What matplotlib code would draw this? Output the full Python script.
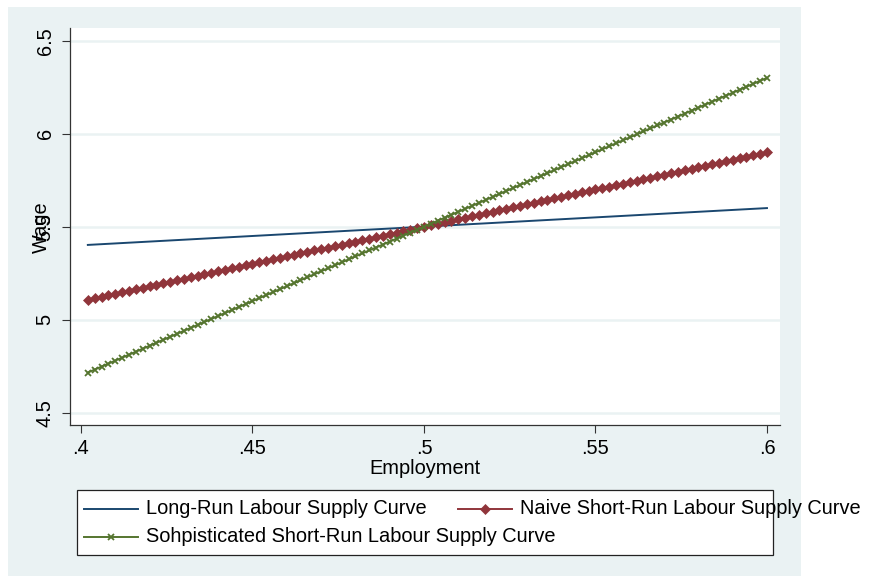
import matplotlib
matplotlib.use("Agg")
import matplotlib.pyplot as plt
from matplotlib.patches import Rectangle
from matplotlib.lines import Line2D

plt.rcParams['font.family'] = ['Liberation Sans', 'DejaVu Sans']

employment = [
    0.402, 0.404, 0.406, 0.408, 0.410, 0.412, 0.414, 0.416, 0.418, 0.420,
    0.422, 0.424, 0.426, 0.428, 0.430, 0.432, 0.434, 0.436, 0.438, 0.440,
    0.442, 0.444, 0.446, 0.448, 0.450, 0.452, 0.454, 0.456, 0.458, 0.460,
    0.462, 0.464, 0.466, 0.468, 0.470, 0.472, 0.474, 0.476, 0.478, 0.480,
    0.482, 0.484, 0.486, 0.488, 0.490, 0.492, 0.494, 0.496, 0.498, 0.500,
    0.502, 0.504, 0.506, 0.508, 0.510, 0.512, 0.514, 0.516, 0.518, 0.520,
    0.522, 0.524, 0.526, 0.528, 0.530, 0.532, 0.534, 0.536, 0.538, 0.540,
    0.542, 0.544, 0.546, 0.548, 0.550, 0.552, 0.554, 0.556, 0.558, 0.560,
    0.562, 0.564, 0.566, 0.568, 0.570, 0.572, 0.574, 0.576, 0.578, 0.580,
    0.582, 0.584, 0.586, 0.588, 0.590, 0.592, 0.594, 0.596, 0.598, 0.600,
]

long_run = [
    5.402, 5.404, 5.406, 5.408, 5.410, 5.412, 5.414, 5.416, 5.418, 5.420,
    5.422, 5.424, 5.426, 5.428, 5.430, 5.432, 5.434, 5.436, 5.438, 5.440,
    5.442, 5.444, 5.446, 5.448, 5.450, 5.452, 5.454, 5.456, 5.458, 5.460,
    5.462, 5.464, 5.466, 5.468, 5.470, 5.472, 5.474, 5.476, 5.478, 5.480,
    5.482, 5.484, 5.486, 5.488, 5.490, 5.492, 5.494, 5.496, 5.498, 5.500,
    5.502, 5.504, 5.506, 5.508, 5.510, 5.512, 5.514, 5.516, 5.518, 5.520,
    5.522, 5.524, 5.526, 5.528, 5.530, 5.532, 5.534, 5.536, 5.538, 5.540,
    5.542, 5.544, 5.546, 5.548, 5.550, 5.552, 5.554, 5.556, 5.558, 5.560,
    5.562, 5.564, 5.566, 5.568, 5.570, 5.572, 5.574, 5.576, 5.578, 5.580,
    5.582, 5.584, 5.586, 5.588, 5.590, 5.592, 5.594, 5.596, 5.598, 5.600,
]

naive_short_run = [
    5.108, 5.116, 5.124, 5.132, 5.140, 5.148, 5.156, 5.164, 5.172, 5.180,
    5.188, 5.196, 5.204, 5.212, 5.220, 5.228, 5.236, 5.244, 5.252, 5.260,
    5.268, 5.276, 5.284, 5.292, 5.300, 5.308, 5.316, 5.324, 5.332, 5.340,
    5.348, 5.356, 5.364, 5.372, 5.380, 5.388, 5.396, 5.404, 5.412, 5.420,
    5.428, 5.436, 5.444, 5.452, 5.460, 5.468, 5.476, 5.484, 5.492, 5.500,
    5.508, 5.516, 5.524, 5.532, 5.540, 5.548, 5.556, 5.564, 5.572, 5.580,
    5.588, 5.596, 5.604, 5.612, 5.620, 5.628, 5.636, 5.644, 5.652, 5.660,
    5.668, 5.676, 5.684, 5.692, 5.700, 5.708, 5.716, 5.724, 5.732, 5.740,
    5.748, 5.756, 5.764, 5.772, 5.780, 5.788, 5.796, 5.804, 5.812, 5.820,
    5.828, 5.836, 5.844, 5.852, 5.860, 5.868, 5.876, 5.884, 5.892, 5.900,
]

sophisticated_short_run = [
    4.716, 4.732, 4.748, 4.764, 4.780, 4.796, 4.812, 4.828, 4.844, 4.860,
    4.876, 4.892, 4.908, 4.924, 4.940, 4.956, 4.972, 4.988, 5.004, 5.020,
    5.036, 5.052, 5.068, 5.084, 5.100, 5.116, 5.132, 5.148, 5.164, 5.180,
    5.196, 5.212, 5.228, 5.244, 5.260, 5.276, 5.292, 5.308, 5.324, 5.340,
    5.356, 5.372, 5.388, 5.404, 5.420, 5.436, 5.452, 5.468, 5.484, 5.500,
    5.516, 5.532, 5.548, 5.564, 5.580, 5.596, 5.612, 5.628, 5.644, 5.660,
    5.676, 5.692, 5.708, 5.724, 5.740, 5.756, 5.772, 5.788, 5.804, 5.820,
    5.836, 5.852, 5.868, 5.884, 5.900, 5.916, 5.932, 5.948, 5.964, 5.980,
    5.996, 6.012, 6.028, 6.044, 6.060, 6.076, 6.092, 6.108, 6.124, 6.140,
    6.156, 6.172, 6.188, 6.204, 6.220, 6.236, 6.252, 6.268, 6.284, 6.300,
]

x_ticks = [0.4, 0.45, 0.5, 0.55, 0.6]
x_ticklabels = ['.4', '.45', '.5', '.55', '.6']
y_ticks = [4.5, 5, 5.5, 6, 6.5]
y_ticklabels = ['4.5', '5', '5.5', '6', '6.5']
legend_labels = ['Long-Run Labour Supply Curve',
                 'Naive Short-Run Labour Supply Curve',
                 'Sohpisticated Short-Run Labour Supply Curve']

NAVY = '#1a476f'
MAROON = '#90353b'
GREEN = '#55752f'
BG = '#eaf2f3'
FS = 14.4

W, H = 869, 578
fig = plt.figure(figsize=(W / 100, H / 100), dpi=100, facecolor='white')


def fx(x):
    return x / W


def fy(y):
    return 1 - y / H


# outer graph region background
fig.patches.append(Rectangle((fx(8), fy(576)), fx(801) - fx(8), fy(7) - fy(576),
                             transform=fig.transFigure, facecolor=BG,
                             edgecolor='none', zorder=-5))

ax = fig.add_axes([fx(70), fy(425), fx(780) - fx(70), fy(28) - fy(425)])
ax.set_zorder(1)
ax.set_facecolor('white')

ax.plot(employment, long_run, color=NAVY, lw=1.4, zorder=3)
ax.plot(employment, naive_short_run, color=MAROON, lw=1.4, marker='D',
        markersize=5.0, markeredgewidth=0.5, markeredgecolor=MAROON, zorder=4)
ax.plot(employment, sophisticated_short_run, color=GREEN, lw=1.4, marker='x',
        markersize=4.8, markeredgewidth=1.3, zorder=5)

ax.set_xlim(0.3968, 0.6038)
ax.set_ylim(4.434, 6.568)
ax.set_xticks(x_ticks)
ax.set_xticklabels(x_ticklabels)
ax.set_yticks(y_ticks)
ax.set_yticklabels(y_ticklabels, rotation=90, va='center')
ax.tick_params(axis='both', direction='out', length=6, width=0.8,
               color='#333333', labelsize=FS, labelcolor='black')
ax.tick_params(axis='x', pad=4)
ax.tick_params(axis='y', pad=5)
ax.yaxis.grid(True, color=BG, lw=1.8, zorder=1)
ax.set_axisbelow(True)
for s in ['top', 'right']:
    ax.spines[s].set_visible(False)
for s in ['left', 'bottom']:
    ax.spines[s].set_color('#333333')
    ax.spines[s].set_linewidth(0.9)

fig.text(fx(425), fy(468), 'Employment', ha='center', va='center', fontsize=FS)
fig.text(fx(41), fy(227), 'Wage', ha='center', va='center', rotation=90, fontsize=FS)

# legend drawn as a Stata-style box
fig.patches.append(Rectangle((fx(77), fy(555)), fx(773) - fx(77), fy(490) - fy(555),
                             transform=fig.transFigure, facecolor='white',
                             edgecolor='#222222', lw=0.9, zorder=2))
entries = [
    (84, 138, 509, NAVY, None, 5.0, 0.5, legend_labels[0]),
    (458, 512, 509, MAROON, 'D', 5.0, 0.5, legend_labels[1]),
    (84, 138, 537, GREEN, 'x', 4.8, 1.3, legend_labels[2]),
]
for x0, x1, yy, c, m, ms, mew, lab in entries:
    fig.lines.append(Line2D([fx(x0), fx(x1)], [fy(yy), fy(yy)], transform=fig.transFigure,
                            color=c, lw=1.4, zorder=3))
    if m is not None:
        fig.lines.append(Line2D([fx((x0 + x1) / 2)], [fy(yy)], transform=fig.transFigure,
                                color=c, marker=m, markersize=ms, markeredgewidth=mew,
                                markeredgecolor=c, lw=0, zorder=4))
    fig.text(fx(x1 + 8), fy(yy), lab, ha='left', va='center', fontsize=FS, zorder=5)

fig.savefig('out.png', dpi=100, facecolor='white')
